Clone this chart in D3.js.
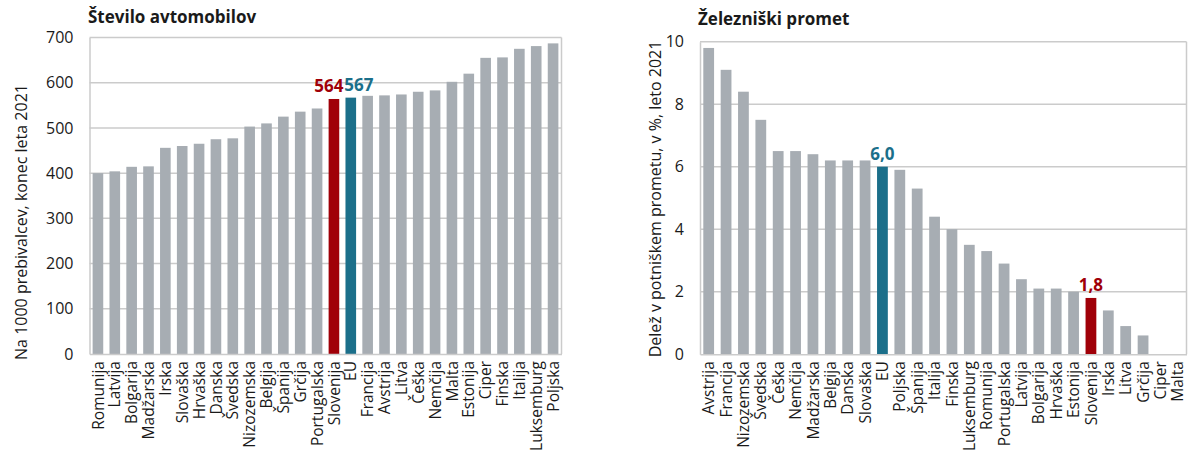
<!DOCTYPE html>
<html>
<head>
<meta charset="utf-8">
<script src="https://cdn.jsdelivr.net/npm/d3@7"></script>
<style>
  html, body { margin: 0; padding: 0; background: #ffffff; }
  svg { display: block; }
  text { font-family: "Open Sans", "Noto Sans", sans-serif; fill: #1a1a1a; }
</style>
</head>
<body>
<svg id="chart" width="1190" height="454"></svg>
<script>
// ---- Data: left chart (number of cars per 1000 inhabitants, end of 2021)
const carCountries = ["Romunija","Latvija","Bolgarija","Madžarska","Irska","Slovaška","Hrvaška","Danska","Švedska","Nizozemska","Belgija","Španija","Grčija","Portugalska","Slovenija","EU","Francija","Avstrija","Litva","Češka","Nemčija","Malta","Estonija","Ciper","Finska","Italija","Luksemburg","Poljska"];
const carValues = [400,404,414,415,456,460,465,475,477,503,510,525,536,543,564,567,571,572,574,580,583,602,620,655,656,675,681,687];
const carTicks = [0,100,200,300,400,500,600,700];

// ---- Data: right chart (rail share in passenger transport, %, 2021)
const railCountries = ["Avstrija","Francija","Nizozemska","Švedska","Češka","Nemčija","Madžarska","Belgija","Danska","Slovaška","EU","Poljska","Španija","Italija","Finska","Luksemburg","Romunija","Portugalska","Latvija","Bolgarija","Hrvaška","Estonija","Slovenija","Irska","Litva","Grčija","Ciper","Malta"];
const railValues = [9.8,9.1,8.4,7.5,6.5,6.5,6.4,6.2,6.2,6.2,6.0,5.9,5.3,4.4,4.0,3.5,3.3,2.9,2.4,2.1,2.1,2.0,1.8,1.4,0.9,0.6,0,0];
const railTicks = [0,2,4,6,8,10];

const COLORS = { bar: "#a7adb3", slo: "#a00008", eu: "#1b6f8a", grid: "#cbcbcb" };

const svg = d3.select("#chart");

function drawPanel(opts) {
  const g = svg.append("g");
  const { x0, x1, y0, y1, cats, vals, ticks, max, title, yTitle, yTitleX, fmt, labelDx } = opts;

  const x = d3.scaleBand().domain(cats).range([x0, x1]).paddingInner(opts.pad).paddingOuter(opts.pad / 2);
  const y = d3.scaleLinear().domain([0, max]).range([y1, y0]);

  // gridlines
  g.append("g").selectAll("line").data(ticks.filter(t => t > 0)).join("line")
    .attr("x1", x0).attr("x2", x1)
    .attr("y1", d => y(d)).attr("y2", d => y(d))
    .attr("stroke", COLORS.grid).attr("stroke-width", 1.5);

  // right border
  g.append("line").attr("x1", x1).attr("x2", x1).attr("y1", y0).attr("y2", y1)
    .attr("stroke", COLORS.grid).attr("stroke-width", 1.5);

  // bars
  g.append("g").selectAll("rect").data(cats).join("rect")
    .attr("x", d => x(d))
    .attr("width", x.bandwidth())
    .attr("y", (d, i) => y(vals[i]))
    .attr("height", (d, i) => y(0) - y(vals[i]))
    .attr("fill", d => d === "Slovenija" ? COLORS.slo : d === "EU" ? COLORS.eu : COLORS.bar);

  // y axis
  const yAxis = g.append("g").attr("transform", `translate(${x0},0)`)
    .call(d3.axisLeft(y).tickValues(ticks).tickSize(0).tickPadding(16).tickFormat(d3.format("d")));
  yAxis.select(".domain").attr("stroke", COLORS.grid).attr("stroke-width", 1.5);
  yAxis.selectAll("text").style("font-size", "16px").attr("fill", "#1a1a1a")
    .style("font-family", '"Open Sans", sans-serif');

  // x axis
  const xAxis = g.append("g").attr("transform", `translate(0,${y1})`)
    .call(d3.axisBottom(x).tickSize(0).tickPadding(6));
  xAxis.select(".domain").attr("stroke", COLORS.grid).attr("stroke-width", 1.5);
  xAxis.selectAll("text")
    .style("font-size", "15.5px").attr("fill", "#1a1a1a")
    .style("font-family", '"Open Sans", sans-serif')
    .attr("text-anchor", "end")
    .attr("transform", "rotate(-90)")
    .attr("x", -7).attr("y", 0).attr("dy", "0.36em");

  // value labels for Slovenija and EU
  ["Slovenija", "EU"].forEach(name => {
    const i = cats.indexOf(name);
    g.append("text")
      .attr("x", x(name) + x.bandwidth() / 2 + (labelDx[name] || 0))
      .attr("y", y(vals[i]) - 7)
      .attr("text-anchor", "middle")
      .style("font-size", "17px").style("font-weight", "700")
      .style("fill", name === "Slovenija" ? COLORS.slo : COLORS.eu)
      .text(fmt(vals[i]));
  });

  // title
  g.append("text").attr("x", opts.titleX).attr("y", opts.titleY)
    .style("font-size", "17px").style("font-weight", "700").text(title);

  // y title
  g.append("text")
    .attr("transform", `translate(${yTitleX},${opts.yTitleY}) rotate(-90)`)
    .attr("text-anchor", "middle").attr("dy", "0.35em")
    .style("font-size", "16px").text(yTitle);
}

drawPanel({
  x0: 89.5, x1: 561.5, y0: 37.5, y1: 354,
  cats: carCountries, vals: carValues, ticks: carTicks, max: 700, pad: 0.37,
  title: "Število avtomobilov", titleX: 88, titleY: 23,
  yTitle: "Na 1000 prebivalcev, konec leta 2021", yTitleX: 21, yTitleY: 222,
  fmt: d3.format("d"), labelDx: { Slovenija: -5, EU: 8 }
});

const commaFmt = v => d3.format(".1f")(v).replace(".", ",");
drawPanel({
  x0: 700, x1: 1186.5, y0: 41.7, y1: 354.2,
  cats: railCountries, vals: railValues, ticks: railTicks, max: 10, pad: 0.38,
  title: "Železniški promet", titleX: 698, titleY: 25,
  yTitle: "Delež v potniškem prometu, v %, leto 2021", yTitleX: 655, yTitleY: 199,
  fmt: commaFmt, labelDx: {}
});
</script>
</body>
</html>
